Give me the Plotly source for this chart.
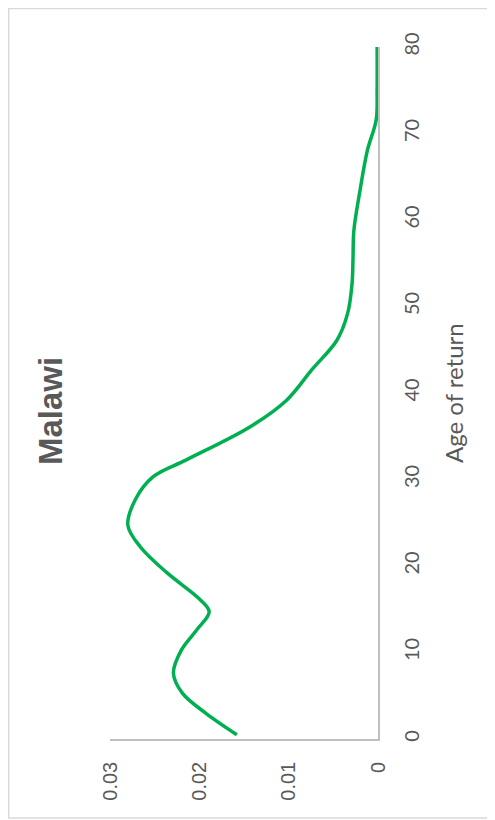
import plotly.graph_objects as go

ages = [0.5, 3, 5.3, 7.6, 10.3, 12.6, 14.7, 16.1, 19.2, 22.2, 24.7, 27.6, 30.3, 32.3,
        36.1, 39.2, 42.7, 46.1, 49.2, 52.7, 55.5, 58.8, 63.5, 68, 71.6, 75, 80]
density = [0.0158, 0.0193, 0.0219, 0.0229, 0.0220, 0.0203, 0.0189, 0.0199, 0.0236, 0.0266,
           0.0280, 0.0272, 0.0252, 0.0214, 0.0143, 0.0102, 0.0074, 0.0046, 0.0034,
           0.0029, 0.0028, 0.0027, 0.0020, 0.0012, 0.0002, 0.0001, 0.0001]

age_ticks = [0, 10, 20, 30, 40, 50, 60, 70, 80]
density_ticks = [0, 0.01, 0.02, 0.03]
density_labels = ["0", "0.01", "0.02", "0.03"]
title_text = "Malawi"
age_title = "Age of return"

fig = go.Figure()
fig.add_trace(go.Scatter(
    x=density, y=ages, mode="lines",
    line=dict(color="#00b050", width=3.5, shape="spline", smoothing=1.0),
    hoverinfo="skip", showlegend=False,
))

fig.update_layout(
    width=487, height=812,
    margin=dict(l=102, r=117, t=39, b=81),
    paper_bgcolor="white", plot_bgcolor="white",
    xaxis=dict(
        range=[0.03, 0], tickvals=density_ticks, ticktext=density_labels,
        tickangle=-90, showgrid=False, zeroline=False,
        showline=True, linecolor="#bfbfbf", linewidth=1.5,
        ticks="", ticklabelstandoff=13,
        tickfont=dict(family="Liberation Sans, Arial", size=20, color="#595959"),
    ),
    yaxis=dict(
        range=[0, 80], tickvals=age_ticks, side="right",
        tickangle=-90, showgrid=False, zeroline=False,
        showline=True, linecolor="#bfbfbf", linewidth=1.5,
        ticks="", ticklabelstandoff=15,
        tickfont=dict(family="Lato, Open Sans", size=20, color="#595959"),
    ),
    annotations=[
        dict(text="<b>" + title_text + "</b>", xref="paper", yref="paper",
             x=-0.220, y=0.474, xanchor="center", yanchor="middle",
             textangle=-90, showarrow=False,
             font=dict(family="Liberation Sans, Arial", size=33, color="#595959")),
        dict(text=age_title, xref="paper", yref="paper",
             x=1.280, y=0.5, xanchor="center", yanchor="middle",
             textangle=-90, showarrow=False,
             font=dict(family="Lato, Open Sans", size=24, color="#595959")),
    ],
    shapes=[
        dict(type="rect", xref="paper", yref="paper",
             x0=-0.378, x1=1.46, y0=-0.1142, y1=1.0557,
             line=dict(color="#d9d9d9", width=1.5), layer="below"),
    ],
)

fig.write_html("out.html")
